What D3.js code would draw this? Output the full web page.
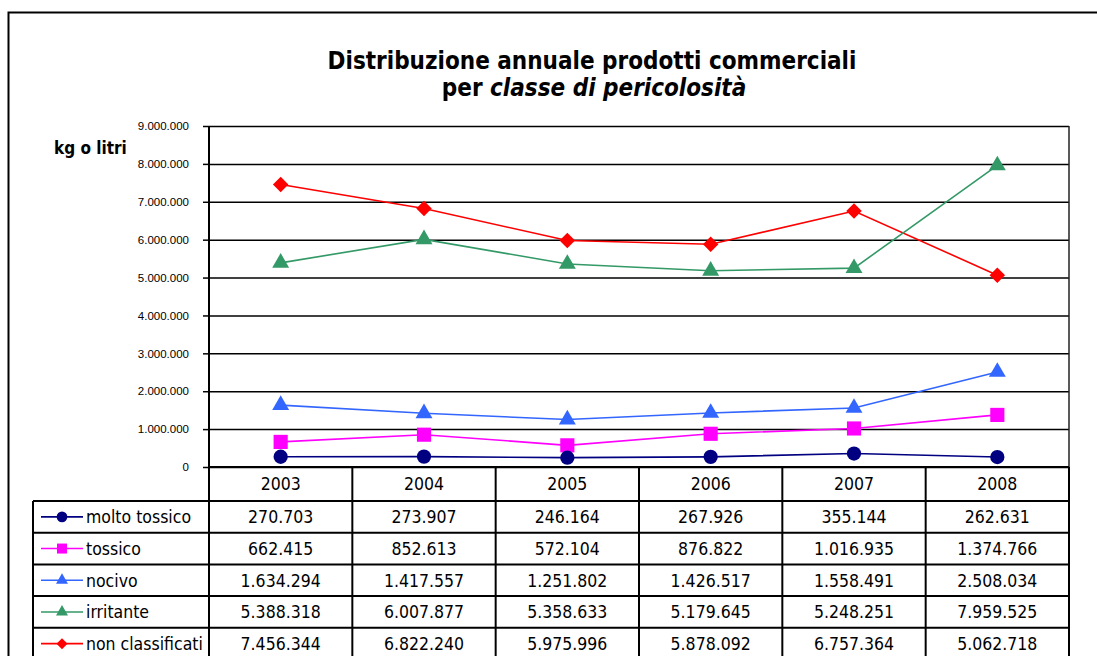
<!DOCTYPE html>
<html lang="it">
    <head>
        <meta charset="utf-8">
        <title>Distribuzione annuale prodotti commerciali</title>
        <style>
          body { margin: 0; background: #fff; }
          svg { display: block; font-family: "DejaVu Sans Condensed", "DejaVu Sans", sans-serif; }
          .grid line { stroke: #000; stroke-width: 1.5px; }
          .grid path { display: none; }
          .yaxis path { display: none; }
          .yaxis line { stroke: #000; stroke-width: 1.5px; }
          .yaxis text { font-size: 11.5px; fill: #000; }
          .cell { font-size: 17.5px; fill: #000; text-anchor: middle; }
          .legtext { font-size: 17.5px; fill: #000; }
          .tline { stroke: #000; stroke-width: 2px; }
        </style>
        <script src="https://d3js.org/d3.v7.min.js"></script>
    </head>
    <body>
        <script type="text/javascript">
          var w = 1097;
          var h = 656;

          // data
          var years = ["2003", "2004", "2005", "2006", "2007", "2008"];
          var seriesNames = ["molto tossico", "tossico", "nocivo", "irritante", "non classificati"];
          var moltoTossico = [270703, 273907, 246164, 267926, 355144, 262631];
          var tossico = [662415, 852613, 572104, 876822, 1016935, 1374766];
          var nocivo = [1634294, 1417557, 1251802, 1426517, 1558491, 2508034];
          var irritante = [5388318, 6007877, 5358633, 5179645, 5248251, 7959525];
          var nonClassificati = [7456344, 6822240, 5975996, 5878092, 6757364, 5062718];
          var yTicks = [0, 1000000, 2000000, 3000000, 4000000, 5000000, 6000000, 7000000, 8000000, 9000000];

          var colors = ["#000080", "#ff00ff", "#3366ff", "#339966", "#ff0000"];
          var shapes = ["circle", "square", "triangle", "triangle", "diamond"];

          var series = [moltoTossico, tossico, nocivo, irritante, nonClassificati].map(function(v, i) {
            return { name: seriesNames[i], values: v, color: colors[i], shape: shapes[i] };
          });

          var itLocale = d3.formatLocale({ decimal: ",", thousands: ".", grouping: [3], currency: ["€", ""] });
          var fmt = itLocale.format(",d");

          var svg = d3.select("body").append("svg")
            .attr("width", w)
            .attr("height", h);

          // outer frame
          svg.append("rect")
            .attr("x", 8.5).attr("y", 12.5)
            .attr("width", 1200).attr("height", 800)
            .attr("fill", "none").attr("stroke", "#000").attr("stroke-width", 2);

          var plotLeft = 209, plotRight = 1069, plotTop = 126, plotBottom = 467;

          var x = d3.scaleBand().domain(years).range([plotLeft, plotRight]);
          var y = d3.scaleLinear().domain([0, 9000000]).range([plotBottom, plotTop]);

          // title
          svg.append("text")
            .attr("x", 592).attr("y", 69)
            .attr("text-anchor", "middle")
            .style("font-weight", "bold")
            .style("font-size", "24px")
            .text("Distribuzione annuale prodotti commerciali");
          var t2 = svg.append("text")
            .attr("x", 594).attr("y", 96)
            .attr("text-anchor", "middle")
            .style("font-weight", "bold")
            .style("font-size", "24px");
          t2.append("tspan").text("per ");
          t2.append("tspan").style("font-style", "italic").text("classe di pericolosità");

          svg.append("text")
            .attr("x", 54).attr("y", 154)
            .style("font-weight", "bold")
            .style("font-size", "17px")
            .text("kg o litri");

          // horizontal grid
          svg.append("g")
            .attr("class", "grid")
            .attr("transform", "translate(" + plotLeft + ",0)")
            .call(d3.axisLeft(y).tickValues(yTicks).tickSize(-(plotRight - plotLeft)).tickFormat(""));

          // y axis ticks and labels
          svg.append("g")
            .attr("class", "yaxis")
            .attr("transform", "translate(" + plotLeft + ",0)")
            .call(d3.axisLeft(y).tickValues(yTicks).tickSize(6).tickPadding(14).tickFormat(fmt));

          // plot side borders
          svg.append("line").attr("x1", plotLeft).attr("x2", plotLeft).attr("y1", plotTop).attr("y2", plotBottom)
            .attr("stroke", "#000").attr("stroke-width", 2);
          svg.append("line").attr("x1", plotRight).attr("x2", plotRight).attr("y1", plotTop).attr("y2", plotBottom)
            .attr("stroke", "#222").attr("stroke-width", 1.5);

          function symbolFor(shape, size) {
            if (shape == "circle") return d3.symbol().type(d3.symbolCircle).size(size)();
            if (shape == "square") return d3.symbol().type(d3.symbolSquare).size(size)();
            if (shape == "triangle") return d3.symbol().type(d3.symbolTriangle).size(size * 0.62)();
            return d3.symbol().type(d3.symbolSquare).size(size * 0.6)();
          }

          var cx = function(d, i) { return x(years[i]) + x.bandwidth() / 2; };
          var line = d3.line()
            .x(function(d, i) { return cx(d, i); })
            .y(function(d) { return y(d); });

          // draw series, last first so molto tossico sits on top like the original
          var sg = svg.selectAll(".series")
            .data(series.slice().reverse())
            .enter().append("g")
            .attr("class", "series");

          sg.append("path")
            .attr("d", function(d) { return line(d.values); })
            .attr("fill", "none")
            .attr("stroke", function(d) { return d.color; })
            .attr("stroke-width", 1.6);

          sg.each(function(s) {
            d3.select(this).selectAll(".mk")
              .data(s.values)
              .enter().append("path")
              .attr("class", "mk")
              .attr("d", symbolFor(s.shape, s.shape == "circle" ? 160 : 200))
              .attr("transform", function(d, i) {
                var tr = "translate(" + cx(d, i) + "," + y(d) + ")";
                if (s.shape == "diamond") tr += " rotate(45)";
                return tr;
              })
              .attr("fill", s.color);
          });

          // data table
          var headH = 34, rowH = 31.7;
          var tableLeft = 33;
          var rowTop = function(i) { return plotBottom + headH + i * rowH; };
          var tableBottom = rowTop(series.length);

          var tg = svg.append("g");

          // header year labels
          tg.selectAll(".yr")
            .data(years)
            .enter().append("text")
            .attr("class", "cell")
            .attr("x", function(d) { return x(d) + x.bandwidth() / 2; })
            .attr("y", plotBottom + 23)
            .text(function(d) { return d; });

          // horizontal table lines
          tg.append("line").attr("class", "tline")
            .attr("x1", plotLeft).attr("x2", plotRight).attr("y1", plotBottom).attr("y2", plotBottom);
          d3.range(series.length + 1).forEach(function(i) {
            tg.append("line").attr("class", "tline")
              .attr("x1", tableLeft).attr("x2", plotRight)
              .attr("y1", rowTop(i)).attr("y2", rowTop(i));
          });
          // vertical table lines
          years.forEach(function(yr) {
            tg.append("line").attr("class", "tline")
              .attr("x1", x(yr)).attr("x2", x(yr))
              .attr("y1", plotBottom).attr("y2", tableBottom);
          });
          tg.append("line").attr("class", "tline")
            .attr("x1", plotRight).attr("x2", plotRight).attr("y1", plotBottom).attr("y2", tableBottom);
          tg.append("line").attr("class", "tline")
            .attr("x1", tableLeft).attr("x2", tableLeft).attr("y1", rowTop(0)).attr("y2", tableBottom);

          // rows
          series.forEach(function(s, r) {
            var cy = rowTop(r) + rowH / 2;
            tg.append("line")
              .attr("x1", 41).attr("x2", 83).attr("y1", cy).attr("y2", cy)
              .attr("stroke", s.color).attr("stroke-width", 1.6);
            tg.append("path")
              .attr("d", symbolFor(s.shape, s.shape == "circle" ? 90 : 100))
              .attr("transform", "translate(62," + cy + ")" + (s.shape == "diamond" ? " rotate(45)" : ""))
              .attr("fill", s.color);
            tg.append("text")
              .attr("class", "legtext")
              .attr("x", 86).attr("y", cy + 6.5)
              .text(s.name);
            tg.selectAll(".v" + r)
              .data(s.values)
              .enter().append("text")
              .attr("class", "cell")
              .attr("x", function(d, i) { return cx(d, i); })
              .attr("y", cy + 6.5)
              .text(function(d) { return fmt(d); });
          });
        </script>
    </body>
</html>
